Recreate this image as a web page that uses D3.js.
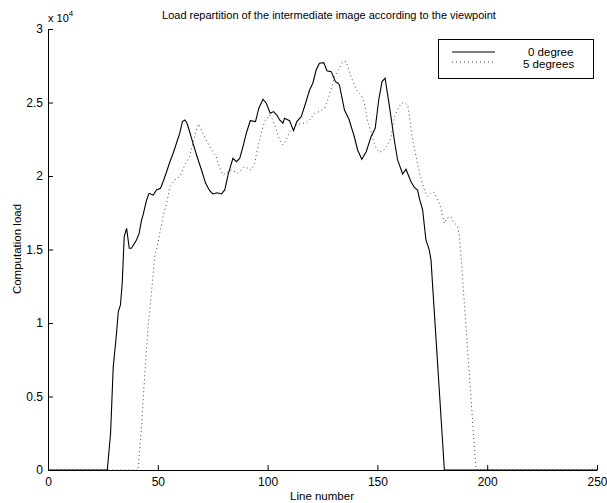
<!DOCTYPE html>
<html><head><meta charset="utf-8">
<script src="https://cdn.jsdelivr.net/npm/d3@7"></script>
<style>
body{margin:0;background:#fff;}
svg{display:block;font-family:"Liberation Sans",Arial,Helvetica,sans-serif;}
</style></head>
<body><svg id="chart" width="607" height="503"></svg>
<script>
// ---- data (line number, computation load) ----
const deg0X = [0,27,28.5,29.7,31.2,32.0,33.0,33.8,34.7,35.8,37.0,38.0,40.3,41.5,42.6,43.3,44.9,46.0,47.9,49.4,51.2,52.4,54.0,55.5,57.0,58.5,60.0,61.2,62.3,63.3,64.5,66.0,67.9,69.9,71.8,73.6,75.1,77.0,79.0,80.5,82.0,84.2,85.8,87.3,88.8,90.3,92.1,94.5,96.0,97.9,99.4,101.2,102.7,104.2,105.5,107.0,107.7,110.0,111.8,113.3,115.3,117.3,119.1,120.6,122.1,123.6,125.6,127.0,129.0,130.9,132.0,132.7,135.0,137.0,139.5,141.0,142.9,144.9,147.1,149.0,150.6,152.1,153.5,155.5,157.7,159.2,161.5,163.0,165.3,166.8,168.3,169.1,170.6,172.1,173.6,174.4,180.5,250];
const deg0Y = [0,0,2500,7000,9300,10770,11225,12700,15870,16440,15080,15080,15650,16100,17000,17350,18370,18820,18710,19050,19160,19610,20290,20970,21550,22230,22910,23700,23810,23590,23010,22230,21310,20410,19500,19000,18780,18860,18780,19050,20070,21200,20970,21200,22000,22910,23760,23700,24610,25220,24950,24270,24380,24150,23810,23590,23930,23760,23080,23700,24040,24950,25850,26310,27210,27670,27710,27160,27100,26420,26310,26190,24490,23880,22670,21770,21140,21650,22670,23250,25170,26420,26650,24720,22450,21090,20140,20460,19610,19230,19050,18480,17690,15650,14970,14290,0,0];
const deg5X = [0,41.0,42.6,44.1,45.6,47.1,48.6,50.1,50.9,52.4,54.0,55.5,57.7,60.0,62.3,64.5,66.0,67.6,68.6,70.6,72.1,73.6,75.1,76.7,77.4,79.7,83.5,86.5,89.5,92.6,94.1,95.6,97.1,98.6,100.9,102.4,104.0,105.5,107.0,108.5,110.0,112.3,115.3,117.6,119.1,121.4,123.6,125.9,127.4,129.0,130.5,132.7,134.2,135.8,136.5,138.0,139.5,141.0,142.6,144.1,144.9,145.6,147.1,147.9,149.1,150.6,152.4,154.0,156.2,157.7,159.2,160.8,162.3,163.8,164.5,165.8,167.6,169.4,171.4,172.9,174.4,175.9,177.0,178.2,178.9,179.4,180.5,181.5,183.5,184.5,186.5,187.3,188.0,194.9,250];
const deg5Y = [0,0,2950,6580,9750,12020,14510,15420,16120,17230,18140,19270,19730,19950,20750,21310,22230,23130,23540,22900,22450,21990,21650,21310,20860,20070,20410,20180,20630,20410,20860,21990,22910,23700,24150,23810,23130,22450,22110,22450,23010,23360,23590,23590,23810,24270,24380,24610,25170,25970,26760,27330,27780,27780,27440,26760,26190,25740,25510,24950,24270,23700,23010,22570,21990,21650,21650,21990,22570,24040,24490,24950,24990,24830,24150,22670,21310,20070,19050,18590,18820,18890,18520,18180,17800,17460,16780,17120,17230,16890,16600,15920,14740,0,0];
const xTicks = [0,50,100,150,200,250];
const yTicks = [0,5000,10000,15000,20000,25000,30000];
const yTickLabels = ["0","0.5","1","1.5","2","2.5","3"];
const legendLabels = ["0 degree","5 degrees"];
const titleText = "Load repartition of the intermediate image according to the viewpoint";
const xLabel = "Line number";
const yLabel = "Computation load";

// ---- drawing ----
const svg = d3.select("#chart");
const x = d3.scaleLinear().domain([0,250]).range([48,597]);
const y = d3.scaleLinear().domain([0,30000]).range([470,29]);

const xAxis = d3.axisBottom(x).tickValues(xTicks).tickSizeInner(-5).tickSizeOuter(0).tickPadding(7).tickFormat(d3.format("d"));
const yAxis = d3.axisLeft(y).tickValues(yTicks).tickSizeInner(-5).tickSizeOuter(0).tickPadding(5)
  .tickFormat((d,i)=>yTickLabels[i]);

const gx = svg.append("g").attr("transform","translate(0,470)").call(xAxis);
const gy = svg.append("g").attr("transform","translate(48,0)").call(yAxis);
[gx,gy].forEach(g=>{
  g.select(".domain").attr("stroke","#000").attr("stroke-width",1);
  g.selectAll(".tick line").attr("stroke","#000");
  g.selectAll(".tick text").attr("fill","#000").attr("font-size",12).attr("font-family","'Liberation Sans',Arial,sans-serif");
});

const line = d3.line().x(d=>x(d[0])).y(d=>y(d[1]));
const s0 = deg0X.map((v,i)=>[v,deg0Y[i]]);
const s5 = deg5X.map((v,i)=>[v,deg5Y[i]]);

svg.append("path").datum(s5).attr("d",line).attr("fill","none")
  .attr("stroke","#444").attr("stroke-width",1).attr("stroke-dasharray","1,3");
svg.append("path").datum(s0).attr("d",line).attr("fill","none")
  .attr("stroke","#000").attr("stroke-width",1.1);

// title & labels
svg.append("text").attr("x",329).attr("y",19).attr("text-anchor","middle").attr("font-size",11).text(titleText);
svg.append("text").attr("x",322).attr("y",500).attr("text-anchor","middle").attr("font-size",11.5).text(xLabel);
svg.append("text").attr("transform","translate(21,249) rotate(-90)").attr("text-anchor","middle").attr("font-size",11.5).text(yLabel);

// exponent
const ex = svg.append("text").attr("x",48).attr("y",22).attr("font-size",11);
ex.append("tspan").text("x 10");
ex.append("tspan").attr("dy",-6).attr("font-size",8).text("4");

// legend
svg.append("rect").attr("x",438.5).attr("y",39.5).attr("width",155).attr("height",39)
  .attr("fill","#fff").attr("stroke","#000").attr("stroke-width",1);
const legY = [52,62];
const legTextY = [55.5,68];
const legX = [528,523];
const legStyles = [{stroke:"#000",dash:null,w:1.1},{stroke:"#444",dash:"1,3",w:1}];
legendLabels.forEach((lab,i)=>{
  svg.append("line").attr("x1",452).attr("x2",495).attr("y1",legY[i]).attr("y2",legY[i])
    .attr("stroke",legStyles[i].stroke).attr("stroke-width",legStyles[i].w)
    .attr("stroke-dasharray",legStyles[i].dash);
  svg.append("text").attr("x",legX[i]).attr("y",legTextY[i]).attr("font-size",11.5).text(lab);
});
</script></body></html>
